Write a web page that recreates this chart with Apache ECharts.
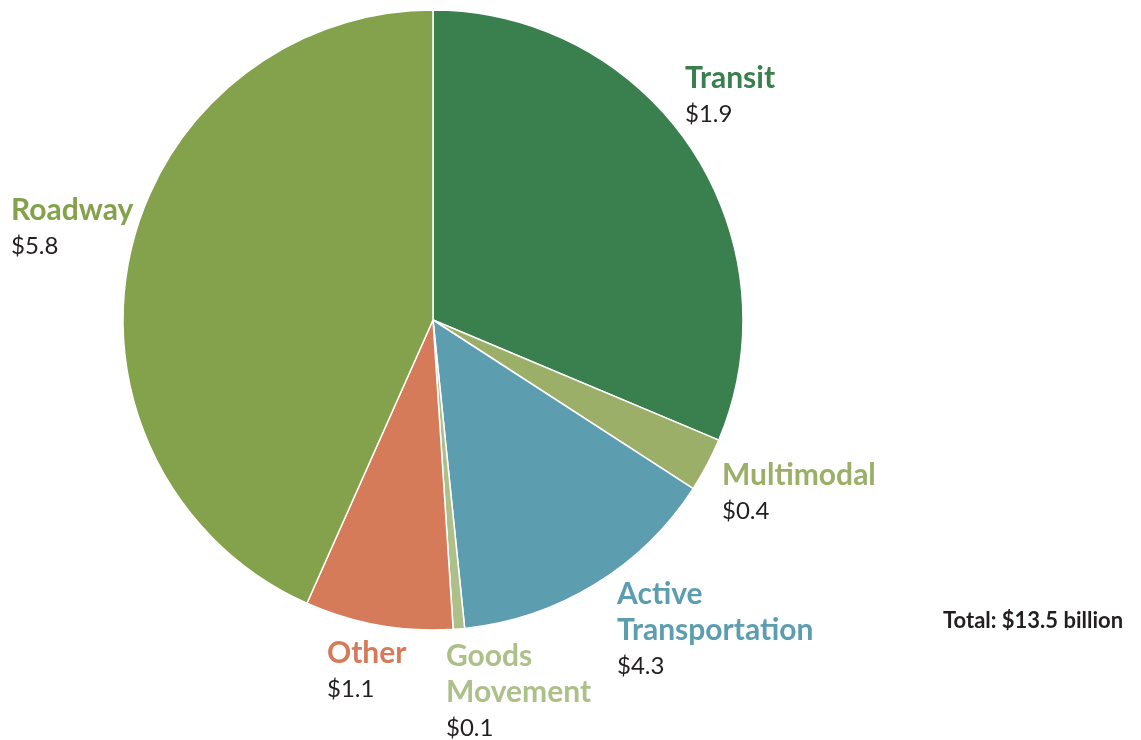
<!DOCTYPE html>
<html>
<head>
<meta charset="utf-8">
<script src="https://cdn.jsdelivr.net/npm/echarts@6/dist/echarts.min.js"></script>
<style>
html,body{margin:0;padding:0;background:#fff;}
#chart{width:1141px;height:740px;}
</style>
</head>
<body>
<div id="chart"></div>
<script>
// Data (slice sizes as drawn in the reference, estimated from the angles; value labels as printed)
const categories = ["Transit", "Multimodal", "Active\nTransportation", "Goods\nMovement", "Other", "Roadway"];
const sliceValues = [4.23, 0.38, 1.92, 0.08, 1.04, 5.85];
const valueLabels = ["$1.9", "$0.4", "$4.3", "$0.1", "$1.1", "$5.8"];
const totalLabel = "Total: $13.5 billion";

const colors = ["#3a7f4e", "#9caf68", "#5c9daf", "#adc08a", "#d67b5a", "#84a14b"];
const labelPos = [[685, 60], [722, 457], [617, 576], [446, 638], [327, 635], [11, 192]];

const FONT = "Lato, 'Open Sans', sans-serif";

const chart = echarts.init(document.getElementById('chart'), null, {renderer: 'canvas'});
const data = categories.map((c, i) => ({
  name: c,
  value: sliceValues[i],
  itemStyle: {color: colors[i]},
  label: {
    formatter: '{t|' + c + '}\n{v|' + valueLabels[i] + '}',
    rich: {
      t: {fontFamily: FONT, fontWeight: 'bold', fontSize: 30, lineHeight: 36, color: colors[i]},
      v: {fontFamily: FONT, fontSize: 24, lineHeight: 36, color: '#231f20'}
    }
  }
}));

chart.setOption({
  animation: false,
  backgroundColor: '#fff',
  graphic: [{
    type: 'text', left: 943, top: 610,
    style: {text: totalLabel, font: "bold 22px " + FONT, fill: '#231f20'}
  }],
  series: [{
    type: 'pie',
    center: [433, 320],
    radius: [0, 310],
    startAngle: 90,
    clockwise: true,
    avoidLabelOverlap: false,
    itemStyle: {borderColor: '#fff', borderWidth: 1.5},
    label: {show: true, position: 'outside'},
    labelLine: {show: false},
    labelLayout: function (p) {
      const pos = labelPos[p.dataIndex];
      return {x: pos[0], y: pos[1], align: 'left', verticalAlign: 'top', moveOverlap: null};
    },
    emphasis: {disabled: true},
    data: data
  }]
});
</script>
</body>
</html>
